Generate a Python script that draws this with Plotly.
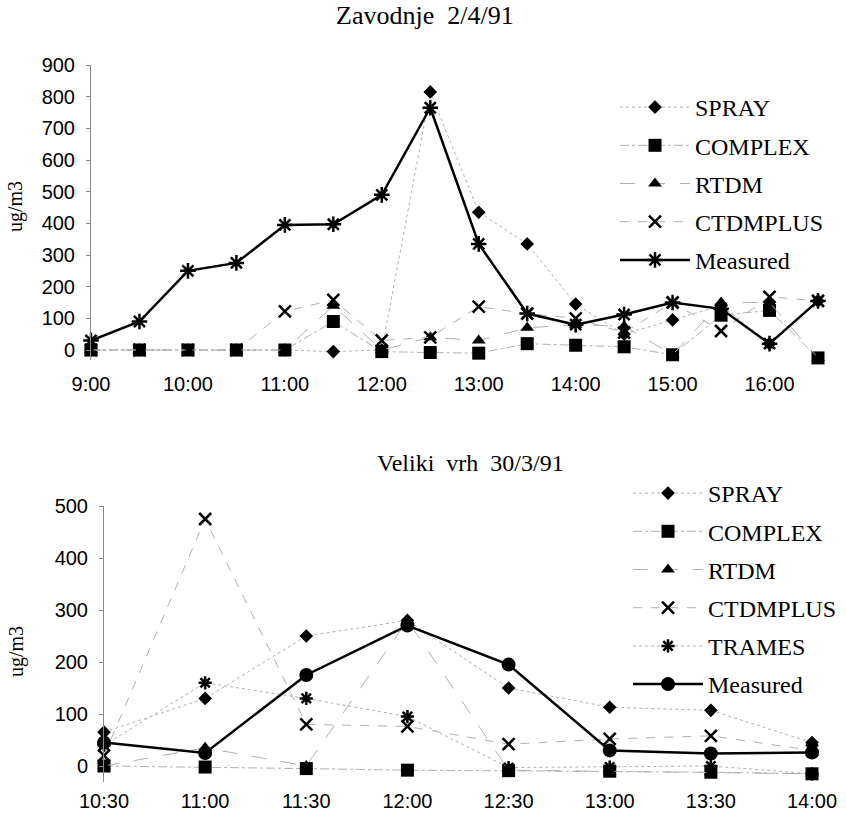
import plotly.graph_objects as go

# ---------------- data: Zavodnje 2/4/91 ----------------
times_top = ["9:00", "9:30", "10:00", "10:30", "11:00", "11:30", "12:00", "12:30",
             "13:00", "13:30", "14:00", "14:30", "15:00", "15:30", "16:00", "16:30"]
top_ticks = ["9:00", "10:00", "11:00", "12:00", "13:00", "14:00", "15:00", "16:00"]
spray_top = [0, 0, 0, 0, 0, -5, 0, 815, 435, 335, 145, 50, 95, 140, 20, 155]
complex_top = [0, 0, 0, 0, 0, 90, -5, -8, -10, 20, 15, 10, -15, 110, 125, -25]
rtdm_top = [0, 0, 0, 0, 0, 140, 0, 40, 30, 70, 80, 75, -15, 150, 150, -25]
ctdmplus_top = [0, 0, 0, 0, 122, 158, 30, 40, 137, 115, 100, 55, 150, 60, 168, 155]
measured_top = [30, 90, 250, 275, 395, 397, 490, 765, 335, 115, 80, 112, 150, 130, 20, 155]

# ---------------- data: Veliki vrh 30/3/91 ----------------
times_bot = ["10:30", "11:00", "11:30", "12:00", "12:30", "13:00", "13:30", "14:00"]
spray_bot = [65, 130, 250, 280, 150, 113, 107, 45]
complex_bot = [0, -2, -5, -8, -9, -10, -12, -15]
rtdm_bot = [0, 35, 0, 280, -8, -10, -12, -15]
ctdmplus_bot = [20, 475, 80, 76, 42, 52, 58, 30]
trames_bot = [40, 160, 130, 95, -3, -2, 0, -15]
measured_bot = [45, 25, 175, 270, 195, 30, 24, 26]

GRAY = "#b0b0b0"
SERIF = "Liberation Serif, Times New Roman, serif"
SANS = "Liberation Sans, Arial, sans-serif"

fig = go.Figure()


def add(x, y, name, symbol, size, dash, xa, ya, legend, group, line_color=GRAY,
        line_width=1, mline=0, open_sym=False):
    marker = dict(symbol=symbol, size=size, color="black")
    if open_sym:
        marker["line"] = dict(color="black", width=mline)
    fig.add_trace(go.Scatter(
        x=x, y=y, name=name, mode="lines+markers",
        line=dict(color=line_color, width=line_width, dash=dash),
        marker=marker, xaxis=xa, yaxis=ya, legend=legend,
        legendgroup=group, cliponaxis=False))


# top chart
add(times_top, spray_top, "SPRAY", "diamond", 10.5, "dot", "x", "y", "legend", "a1")
add(times_top, complex_top, "COMPLEX", "square", 13, "dashdot", "x", "y", "legend", "a2")
add(times_top, rtdm_top, "RTDM", "triangle-up", 12, "longdash", "x", "y", "legend", "a3")
add(times_top, ctdmplus_top, "CTDMPLUS", "x-thin-open", 12, "dash", "x", "y", "legend", "a4",
    open_sym=True, mline=2.5)
add(times_top, measured_top, "Measured", "asterisk-open", 13, "solid", "x", "y", "legend", "a5",
    line_color="black", line_width=2.5, open_sym=True, mline=2.5)

# bottom chart
add(times_bot, spray_bot, "SPRAY", "diamond", 10.5, "dot", "x2", "y2", "legend2", "b1")
add(times_bot, complex_bot, "COMPLEX", "square", 13, "dashdot", "x2", "y2", "legend2", "b2")
add(times_bot, rtdm_bot, "RTDM", "triangle-up", 12, "longdash", "x2", "y2", "legend2", "b3")
add(times_bot, ctdmplus_bot, "CTDMPLUS", "x-thin-open", 12, "dash", "x2", "y2", "legend2", "b4",
    open_sym=True, mline=2.5)
add(times_bot, trames_bot, "TRAMES", "asterisk-open", 11, "dot", "x2", "y2", "legend2", "b5",
    open_sym=True, mline=2.5)
add(times_bot, measured_bot, "Measured", "circle", 14, "solid", "x2", "y2", "legend2", "b6",
    line_color="black", line_width=2.5)

xcommon = dict(type="category", showline=False, showgrid=False, zeroline=False,
               ticks="", tickfont=dict(family=SANS, size=20, color="black"),
               automargin=False)
ycommon = dict(showline=True, linecolor="#8a8a8a", linewidth=1, showgrid=False,
               zeroline=False, ticks="outside", ticklen=4, tickcolor="#8a8a8a",
               tickfont=dict(family=SANS, size=20, color="black"), ticklabelstandoff=7,
               automargin=False)

legend_common = dict(font=dict(family=SERIF, size=24, color="black"),
                     bgcolor="rgba(0,0,0,0)", itemwidth=70, tracegroupgap=4,
                     xanchor="left", yanchor="top")

fig.update_layout(
    width=846, height=818,
    margin=dict(l=0, r=0, t=0, b=0, autoexpand=False),
    paper_bgcolor="white", plot_bgcolor="white",
    xaxis=dict(domain=[91 / 846, 818 / 846], range=[0, 15], tickvals=top_ticks,
               anchor="y", ticklabelstandoff=10, **xcommon),
    yaxis=dict(domain=[1 - 359.5 / 818, 1 - 65 / 818], range=[-30, 900],
               tickvals=[0, 100, 200, 300, 400, 500, 600, 700, 800, 900],
               anchor="x", **ycommon),
    xaxis2=dict(domain=[104 / 846, 812 / 846], range=[0, 7], tickvals=times_bot,
                anchor="y2", ticklabelstandoff=5, **xcommon),
    yaxis2=dict(domain=[1 - 781.6 / 818, 1 - 506 / 818], range=[-30, 500],
                tickvals=[0, 100, 200, 300, 400, 500], anchor="x2", **ycommon),
    legend=dict(x=615 / 846, y=1 - 85 / 818, **legend_common),
    legend2=dict(x=628 / 846, y=1 - 471 / 818, **legend_common),
    showlegend=True,
    annotations=[
        dict(text="Zavodnje  2/4/91", x=425 / 846, y=1 - 16 / 818, xref="paper", yref="paper",
             yanchor="middle", showarrow=False, font=dict(family=SERIF, size=26, color="black")),
        dict(text="Veliki  vrh  30/3/91", x=470 / 846, y=1 - 463 / 818, xref="paper", yref="paper",
             yanchor="middle", showarrow=False, font=dict(family=SERIF, size=24, color="black")),
        dict(text="ug/m3", x=16 / 846, y=1 - 207 / 818, xref="paper", yref="paper",
             xanchor="center", yanchor="middle",
             textangle=-90, showarrow=False, font=dict(family=SERIF, size=20, color="black")),
        dict(text="ug/m3", x=16 / 846, y=1 - 652 / 818, xref="paper", yref="paper",
             xanchor="center", yanchor="middle",
             textangle=-90, showarrow=False, font=dict(family=SERIF, size=20, color="black")),
    ],
)

fig.write_html("out.html", config={"displayModeBar": False},
               post_script="document.body.style.margin='0';")
